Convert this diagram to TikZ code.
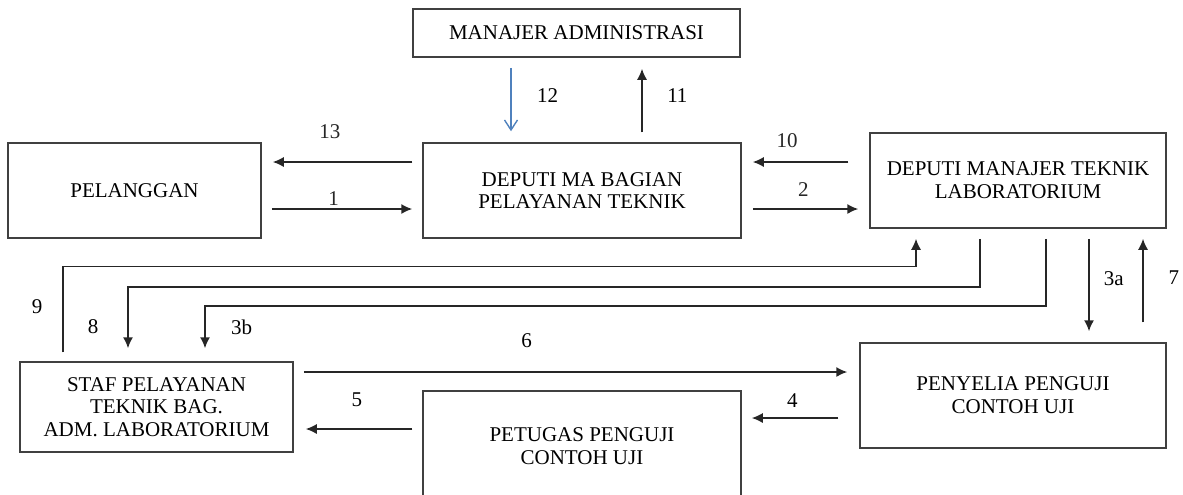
\documentclass[tikz,border=0pt]{standalone}
\usepackage{fontspec}
\setmainfont{Liberation Serif}
\usetikzlibrary{arrows,arrows.meta}
\definecolor{boxline}{RGB}{64,64,64}
\definecolor{bluearrow}{RGB}{79,129,189}

\begin{document}
\begin{tikzpicture}[x=0.5pt, y=-0.5pt,
block/.style = {draw=boxline, line width=0.75pt, fill=white, rectangle, align=center, inner sep=0pt},
lbl/.style = {inner sep=0pt},
flow/.style = {->, line width=0.75pt, black!85},
font=\fontsize{10.5}{11.4}\selectfont,
>={Latex[length=5.5pt,width=5pt]}
]
    \useasboundingbox (0,0) rectangle (1183,494);

    \node [block, minimum width=126.5pt, minimum height=47.5pt] (pel) at (134.5,190.5) {PELANGGAN};
    \node [block, right of=pel, node distance=223.75pt, minimum width=159pt, minimum height=47.5pt] (dma) {DEPUTI MA BAGIAN\\PELAYANAN TEKNIK};
    \node [block, above of=dma, node distance=78.75pt, xshift=-2.75pt, minimum width=163.5pt, minimum height=24pt] (mad) {MANAJER ADMINISTRASI};
    \node [block, right of=dma, node distance=218pt, yshift=5pt, minimum width=148pt, minimum height=47.5pt] (dmt) {DEPUTI MANAJER TEKNIK\\LABORATORIUM};

    \node [block, below of=pel, node distance=108.25pt, xshift=11pt, minimum width=136.5pt, minimum height=45pt] (staf) {STAF PELAYANAN\\TEKNIK BAG.\\ADM. LABORATORIUM};
    \node [block, right of=staf, node distance=212.75pt, yshift=-19.5pt, minimum width=159pt, minimum height=55pt] (pet) {PETUGAS PENGUJI\\CONTOH UJI};
    \node [block, right of=pet, node distance=215.5pt, yshift=25.25pt, minimum width=153pt, minimum height=52.5pt] (pen) {PENYELIA PENGUJI\\CONTOH UJI};


    % top row
    \draw [flow] ([xshift=-5pt,yshift=14.25pt]dma.west) -- node[lbl, above=11.5pt, pos=.59]{13} ([xshift=5.5pt,yshift=14.25pt]pel.east);
    \draw [flow] ([xshift=5pt,yshift=-9.25pt]pel.east) -- node[lbl, above=1.6pt, pos=.44]{1} ([xshift=-5pt,yshift=-9.25pt]dma.west);
    \draw [flow] ([xshift=-10.5pt,yshift=9.25pt]dmt.west) -- node[lbl, above=6.6pt, pos=.64]{10} ([xshift=5.5pt,yshift=14.25pt]dma.east);
    \draw [flow] ([xshift=5.5pt,yshift=-9.25pt]dma.east) -- node[lbl, above=6.1pt, pos=.48]{2} ([xshift=-5.5pt,yshift=-14.25pt]dmt.west);

    \draw [line width=0.7pt, bluearrow, -{Straight Barb[length=5pt,width=6.5pt]}] ([xshift=-32.75pt,yshift=-5pt]mad.south) -- node[lbl, right=12.75pt, pos=.43, black]{12} ([xshift=-35.5pt,yshift=5.5pt]dma.north);
    \draw [flow] ([xshift=30pt,yshift=5pt]dma.north) -- node[lbl, right=12.25pt, pos=.58, black]{11} ([xshift=32.75pt,yshift=-5.5pt]mad.south);

    % right column
    \draw [flow] ([xshift=35.5pt,yshift=-5pt]dmt.south) -- node[lbl, right=7pt, pos=.43, black]{3a} ([xshift=38pt,yshift=5.5pt]pen.north);
    \draw [flow] ([xshift=65pt,yshift=10pt]pen.north) -- node[lbl, right=12.4pt, pos=.53, black]{7} ([xshift=62.5pt,yshift=-5pt]dmt.south);

    % long returns
    \draw [flow] ([xshift=-46.75pt,yshift=4.5pt]staf.north) -- node[lbl, left=9.9pt, pos=.53, black]{9} ++(0,-86) -| ([xshift=-51pt,yshift=-5pt]dmt.south);
    \draw [flow] ([xshift=-19pt,yshift=-5pt]dmt.south) -- ++(0,48) -| node[lbl, left=14.4pt, pos=.825, black]{8} ([xshift=-14.25pt,yshift=6.5pt]staf.north);
    \draw [flow] ([xshift=14pt,yshift=-5pt]dmt.south) -- ++(0,67) -| node[lbl, right=12.7pt, pos=.75, black]{3b} ([xshift=24.25pt,yshift=6.5pt]staf.north);

    % bottom row
    \draw [flow] ([xshift=5pt,yshift=17.5pt]staf.east) -- node[lbl, above=11.6pt, pos=.41, black]{6} ([xshift=-6pt,yshift=11.75pt]pen.west);
    \draw [flow] ([xshift=-10.5pt,yshift=-11.25pt]pen.west) -- node[lbl, above=5.1pt, pos=.53, black]{4} ([xshift=5pt,yshift=14pt]pet.east);
    \draw [flow] ([xshift=-5pt,yshift=8.5pt]pet.west) -- node[lbl, above=10.6pt, pos=.52, black]{5} ([xshift=6pt,yshift=-11pt]staf.east);

\end{tikzpicture}
\end{document}
